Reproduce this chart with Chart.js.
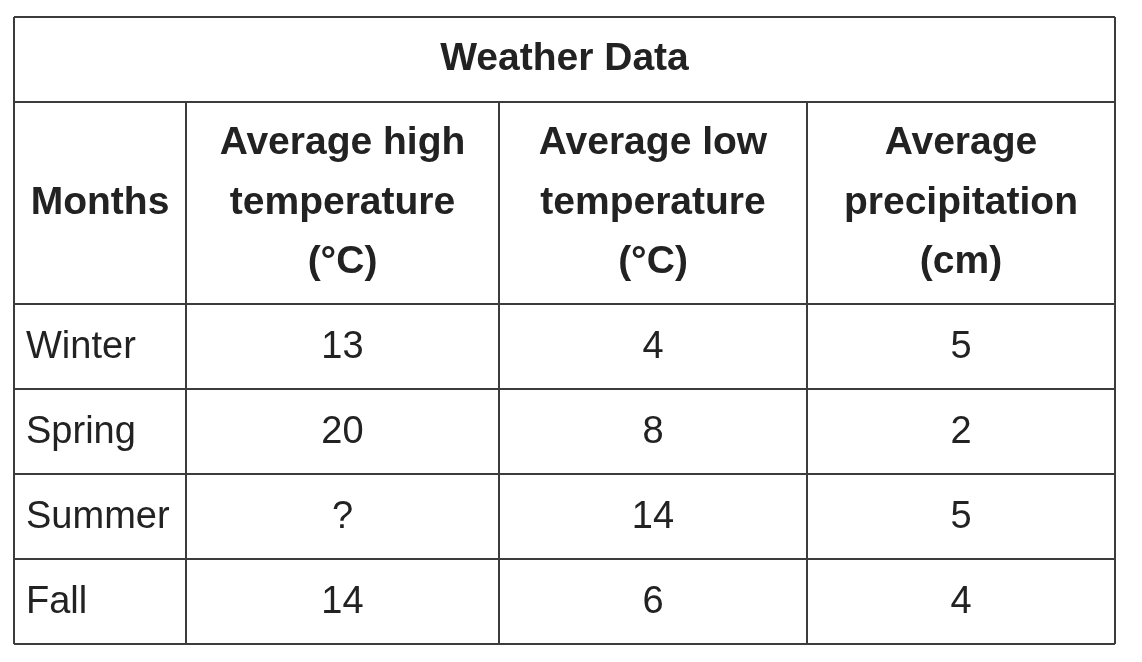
<!DOCTYPE html>
<html>
<head>
<meta charset="utf-8">
<script src="https://cdn.jsdelivr.net/npm/chart.js@4"></script>
<style>
  html, body { margin: 0; padding: 0; background: #ffffff; }
  #wrap { width: 1142px; height: 662px; }
</style>
</head>
<body>
<div id="wrap"><canvas id="table" width="1142" height="662"></canvas></div>
<script>
// table content
const title = 'Weather Data'
const headers = [
  ['Months'],
  ['Average high', 'temperature', '(°C)'],
  ['Average low', 'temperature', '(°C)'],
  ['Average', 'precipitation', '(cm)'],
]
const months = ['Winter', 'Spring', 'Summer', 'Fall']
const highTemps = [13, 20, null, 14] // summer value is unknown, shown as "?"
const lowTemps = [4, 8, 14, 6]
const precipitation = [5, 2, 5, 4]

// grid layout in scale units (column and row edges)
const colEdges = [0, 172, 485, 793, 1101]
const rowEdges = [0, 85, 287, 372, 457, 542, 627]

const FONT = '"Liberation Sans", Arial, sans-serif'
const INK = '#222222'
const RULE = '#3c3c3c'

const tablePlugin = {
  id: 'weatherTable',
  afterDraw(chart) {
    const { ctx } = chart
    const xs = chart.scales.x
    const ys = chart.scales.y
    const px = v => xs.getPixelForValue(v)
    const py = v => ys.getPixelForValue(v)
    const left = px(colEdges[0])
    const right = px(colEdges[colEdges.length - 1])
    const top = py(rowEdges[0])
    const bottom = py(rowEdges[rowEdges.length - 1])

    ctx.save()

    // rules
    ctx.strokeStyle = RULE
    ctx.lineWidth = 2
    ctx.beginPath()
    rowEdges.forEach(r => {
      ctx.moveTo(left, py(r))
      ctx.lineTo(right, py(r))
    })
    colEdges.forEach((c, i) => {
      const isOuter = i === 0 || i === colEdges.length - 1
      ctx.moveTo(px(c), isOuter ? top : py(rowEdges[1]))
      ctx.lineTo(px(c), bottom)
    })
    ctx.stroke()

    ctx.fillStyle = INK
    ctx.textBaseline = 'middle'

    // title row
    ctx.font = 'bold 39px ' + FONT
    ctx.textAlign = 'center'
    ctx.fillText(title, (left + right) / 2, (py(rowEdges[0]) + py(rowEdges[1])) / 2)

    // header row
    const lineGap = 59.5
    headers.forEach((lines, i) => {
      const cx = (px(colEdges[i]) + px(colEdges[i + 1])) / 2
      const cy = (py(rowEdges[1]) + py(rowEdges[2])) / 2
      lines.forEach((t, j) => {
        ctx.fillText(t, cx, cy + (j - (lines.length - 1) / 2) * lineGap)
      })
    })

    // body rows
    ctx.font = '38px ' + FONT
    const columns = [highTemps, lowTemps, precipitation]
    months.forEach((m, r) => {
      const cy = (py(rowEdges[r + 2]) + py(rowEdges[r + 3])) / 2 + 1
      ctx.textAlign = 'left'
      ctx.fillText(m, px(colEdges[0]) + 12, cy)
      ctx.textAlign = 'center'
      columns.forEach((vals, c) => {
        const cx = (px(colEdges[c + 1]) + px(colEdges[c + 2])) / 2
        const v = vals[r]
        ctx.fillText(v === null ? '?' : String(v), cx, cy)
      })
    })

    ctx.restore()
  },
}

new Chart(document.getElementById('table'), {
  type: 'scatter',
  data: { datasets: [] },
  options: {
    responsive: false,
    animation: false,
    devicePixelRatio: 1,
    layout: { padding: { left: 14, top: 17, right: 27, bottom: 18 } },
    plugins: { legend: { display: false }, tooltip: { enabled: false } },
    scales: {
      x: { type: 'linear', min: colEdges[0], max: colEdges[colEdges.length - 1], display: false },
      y: { type: 'linear', min: rowEdges[0], max: rowEdges[rowEdges.length - 1], reverse: true, display: false },
    },
  },
  plugins: [tablePlugin],
})
</script>
</body>
</html>
